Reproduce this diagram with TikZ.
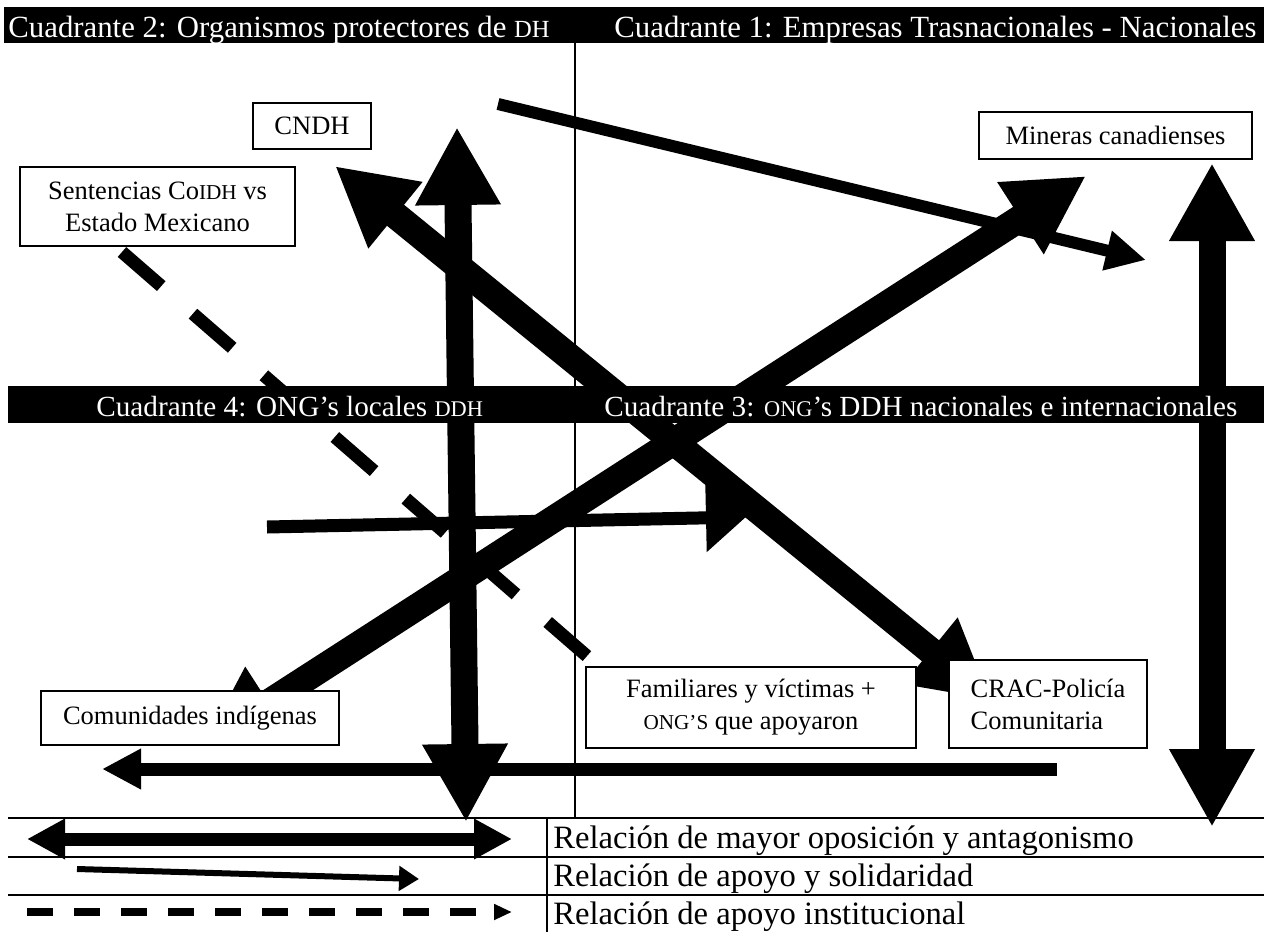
\documentclass[tikz,border=0pt]{standalone}
\usepackage{fontspec}
\setmainfont{Liberation Serif}
\usetikzlibrary{arrows.meta}
\newcommand{\scB}[1]{{\fontsize{12.3}{12.3}\selectfont #1}}
\newcommand{\scM}[1]{{\fontsize{11.2}{11.2}\selectfont #1}}
\newcommand{\scS}[1]{{\fontsize{10.6}{10.6}\selectfont #1}}
\begin{document}
\begin{tikzpicture}[x=0.5pt,y=-0.5pt,
  box/.style={draw, fill=white, line width=0.7pt, inner sep=0pt, font=\fontsize{13.25}{16}\selectfont, align=center},
  bartext/.style={text=white, inner sep=0pt, font=\fontsize{15.4}{18}\selectfont, anchor=base west},
  midtext/.style={text=white, inner sep=0pt, font=\fontsize{14.6}{17}\selectfont, anchor=base west},
  legtext/.style={inner sep=0pt, font=\fontsize{16.3}{19}\selectfont, anchor=base west},
  rule/.style={line width=0.8pt},
  bigarrow/.style={line width=13.5pt, >={Triangle[length=39pt,width=40pt]}, <->},
  midarrow/.style={line width=6.5pt, >={Triangle[length=19.5pt,width=19pt]}, ->},
  instline/.style={line width=6.5pt, dash pattern=on 26pt off 21pt}
]
\useasboundingbox (0,0) rectangle (1264,932);
\fill[white] (0,0) rectangle (1264,932);

% coordinates
\coordinate (a1s) at (457,127); \coordinate (a1e) at (466,822);
\coordinate (a2s) at (1212,163); \coordinate (a2e) at (1212,827);
\coordinate (a3s) at (203,745); \coordinate (a3e) at (1086,176);
\coordinate (a4s) at (335,166); \coordinate (a4e) at (991,700);
\coordinate (a5s) at (1057,769); \coordinate (a5e) at (102,769);
\coordinate (a6s) at (267,527); \coordinate (a6e) at (746,517);
\coordinate (a7s) at (498,104); \coordinate (a7e) at (1146,260);
\coordinate (d1s) at (122,252); \coordinate (d1e) at (588,657);
\coordinate (vt) at (575,43); \coordinate (vb) at (575,818);

% quadrant and legend rules
\draw[line width=0.75pt] (vt) -- (vb);
\coordinate (r0l) at (8,818); \coordinate (r0r) at (1264,818);
\coordinate (r1l) at (8,857); \coordinate (r1r) at (1264,857);
\coordinate (r2l) at (8,895); \coordinate (r2r) at (1264,895);
\coordinate (sept) at (547,818); \coordinate (sepb) at (547,932);
\draw[rule] (r0l) -- (r0r);
\draw[rule] (r1l) -- (r1r);
\draw[rule] (r2l) -- (r2r);
\draw[rule] (sept) -- (sepb);

% relations
\draw[instline] (d1s) -- (d1e);
\draw[bigarrow] (a1s) -- (a1e);
\draw[bigarrow] (a2s) -- (a2e);
\draw[bigarrow] (a3s) -- (a3e);
\draw[bigarrow] (a4s) -- (a4e);
\draw[midarrow] (a5s) -- (a5e);
\draw[line width=6.5pt, -{Triangle[length=20pt,width=33pt]}] (a6s) -- (a6e);
\draw[line width=6pt, -{Triangle[length=20pt,width=19pt]}] (a7s) -- (a7e);

% bars
\fill (4,7) rectangle (1264,43);
\fill (8,386) rectangle (1264,423);
\node[bartext] (q2) at (8,37) {Cuadrante 2: Organismos protectores de \scB{DH}};
\node[bartext] (q1) at (614,37) {Cuadrante 1: Empresas Trasnacionales - Nacionales};
\node[midtext] (q4) at (96,416) {Cuadrante 4: ONG’s locales \scM{DDH}};
\node[midtext] (q3) at (604,416) {Cuadrante 3: \scM{ONG}’s DDH nacionales e internacionales};

% actor boxes
\node[box, minimum width=59pt, minimum height=23pt] (cndh) at (312,126) {CNDH};
\node[box, minimum width=137.5pt, minimum height=39.5pt] (sent) at (157.5,206.5) {Sentencias Co\scS{IDH} vs\\Estado Mexicano};
\node[box, minimum width=136.5pt, minimum height=23.5pt] (min) at (1115.5,135.5) {Mineras canadienses};
\node[box, minimum width=149pt, minimum height=27pt] (com) at (190,718) {Comunidades indígenas};
\node[box, minimum width=165pt, minimum height=40.5pt] (fam) at (751,707.5) {Familiares y víctimas +\\\scS{ONG’S} que apoyaron};
\node[box, minimum width=99pt, minimum height=44pt, align=left] (crac) at (1048,704) {CRAC-Policía\\Comunitaria};

% legend
\coordinate (l1s) at (27,839); \coordinate (l1e) at (512,839);
\coordinate (l2s) at (77,869); \coordinate (l2e) at (419,879);
\coordinate (l3s) at (27,912); \coordinate (l3e) at (512,912);
\draw[line width=6.5pt, {Triangle[length=19pt,width=19pt]}-{Triangle[length=19pt,width=19pt]}] (l1s) -- (l1e);
\draw[line width=3pt, -{Triangle[length=10pt,width=12pt]}] (l2s) -- (l2e);
\draw[line width=4pt, dash pattern=on 13pt off 10.5pt, -{Triangle[length=9pt,width=7.5pt]}] (l3s) -- (l3e);
\node[legtext] (t1) at (553,848) {Relación de mayor oposición y antagonismo};
\node[legtext] (t2) at (553,886) {Relación de apoyo y solidaridad};
\node[legtext] (t3) at (553,924) {Relación de apoyo institucional};
\end{tikzpicture}
\end{document}
